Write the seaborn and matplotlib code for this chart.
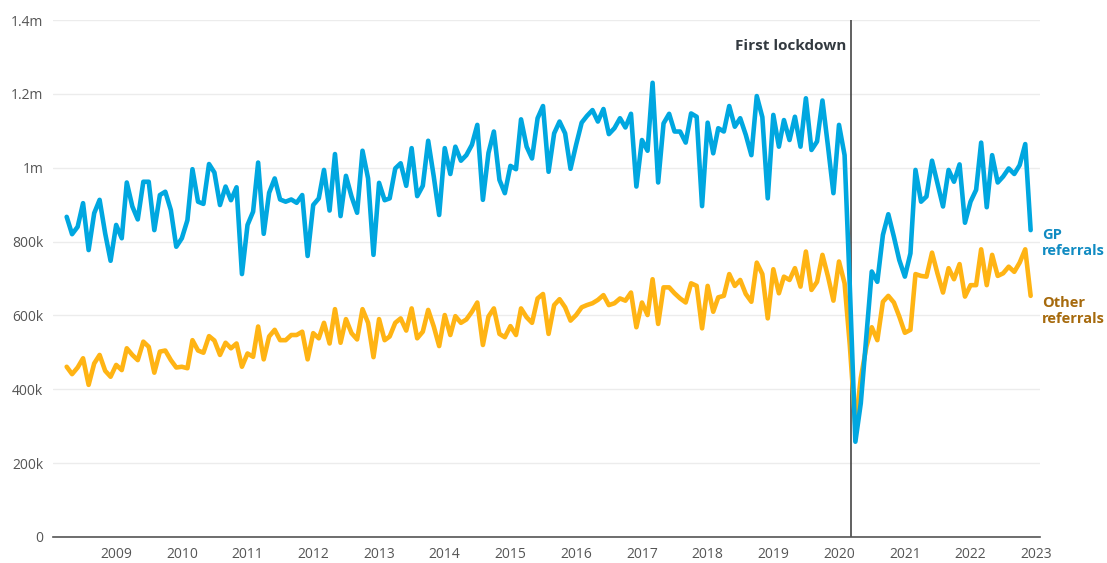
import pandas as pd
import numpy as np
import seaborn as sns
import matplotlib.pyplot as plt
import matplotlib.dates as mdates

# monthly referrals (thousands), Apr 2008 - Dec 2022
gp_referrals = [
    867, 820, 840, 904, 777, 877, 913, 822, 748, 845,
    809, 960, 895, 860, 962, 962, 831, 926, 935, 885,
    786, 809, 858, 996, 908, 902, 1010, 987, 899, 949,
    912, 947, 712, 845, 881, 1014, 821, 932, 971, 914,
    908, 914, 905, 926, 761, 899, 917, 994, 884, 1037,
    869, 978, 922, 878, 1046, 971, 764, 959, 912, 917,
    998, 1012, 951, 1053, 923, 951, 1073, 976, 872, 1053,
    983, 1057, 1019, 1034, 1062, 1116, 913, 1040, 1098, 967,
    931, 1005, 996, 1131, 1057, 1025, 1134, 1167, 989, 1093,
    1125, 1093, 997, 1062, 1122, 1140, 1156, 1125, 1159, 1091,
    1107, 1134, 1109, 1146, 949, 1075, 1046, 1230, 960, 1120,
    1146, 1098, 1098, 1068, 1147, 1138, 896, 1122, 1039, 1107,
    1098, 1167, 1111, 1134, 1089, 1034, 1194, 1137, 917, 1143,
    1057, 1129, 1075, 1138, 1057, 1188, 1048, 1071, 1182, 1057,
    931, 1116, 1034, 680, 258, 362, 543, 719, 691, 818,
    874, 813, 750, 705, 768, 994, 908, 922, 1019, 958,
    895, 994, 962, 1009, 851, 908, 940, 1068, 893, 1034,
    960, 976, 998, 983, 1007, 1064, 831,
]
other_referrals = [
    461, 441, 459, 484, 412, 470, 493, 450, 434, 466,
    452, 511, 493, 479, 529, 515, 445, 502, 505, 479,
    459, 461, 457, 533, 505, 499, 544, 532, 493, 526,
    511, 524, 461, 497, 488, 570, 481, 543, 561, 533,
    533, 547, 547, 556, 481, 552, 538, 580, 524, 617,
    526, 590, 552, 535, 617, 580, 487, 590, 533, 543,
    580, 592, 559, 619, 538, 556, 615, 570, 517, 601,
    547, 598, 580, 589, 610, 635, 520, 597, 619, 550,
    541, 571, 547, 619, 595, 580, 646, 658, 550, 628,
    644, 622, 586, 601, 622, 628, 633, 642, 655, 628,
    633, 646, 640, 662, 568, 635, 601, 698, 577, 676,
    676, 660, 646, 635, 687, 680, 565, 680, 610, 649,
    653, 712, 680, 696, 658, 637, 743, 712, 592, 725,
    660, 705, 696, 728, 678, 773, 669, 691, 764, 705,
    640, 746, 687, 520, 300, 430, 515, 568, 533, 637,
    653, 635, 597, 553, 561, 712, 707, 705, 770, 714,
    662, 728, 698, 739, 651, 682, 682, 779, 682, 764,
    707, 714, 732, 718, 743, 779, 653,
]
months = pd.date_range("2008-04-01", periods=len(gp_referrals), freq="MS")
year_ticks = list(range(2009, 2024))
y_ticks = [0, 200000, 400000, 600000, 800000, 1000000, 1200000, 1400000]
y_labels = ["0", "200k", "400k", "600k", "800k", "1m", "1.2m", "1.4m"]

df = pd.DataFrame({
    "month": list(months) * 2,
    "referrals": [v * 1000 for v in gp_referrals] + [v * 1000 for v in other_referrals],
    "type": ["GP referrals"] * len(months) + ["Other referrals"] * len(months),
})

sns.set_style("white")
plt.rcParams["font.family"] = ["Open Sans", "DejaVu Sans"]

fig = plt.figure(figsize=(11.07, 5.63), dpi=100)
ax = fig.add_axes([53 / 1107, 1 - 537 / 563, (1040 - 53) / 1107, (537 - 20) / 563])

palette = {"GP referrals": "#00a7e0", "Other referrals": "#ffb414"}
sns.lineplot(data=df, x="month", y="referrals", hue="type",
             hue_order=["Other referrals", "GP referrals"], palette=palette,
             linewidth=3.3, legend=False, ax=ax)
for ln in ax.get_lines():
    ln.set_solid_joinstyle("round")
    ln.set_solid_capstyle("round")

ax.set_ylim(0, 1400000)
ax.set_xlim(pd.Timestamp("2008-01-16"), pd.Timestamp("2023-01-22"))
ax.set_yticks(y_ticks)
ax.set_yticklabels(y_labels)
ax.set_xticks([pd.Timestamp(f"{y}-01-01") for y in year_ticks])
ax.xaxis.set_major_formatter(mdates.DateFormatter("%Y"))
ax.tick_params(axis="both", length=0, labelsize=10, labelcolor="#555555")
ax.tick_params(axis="y", pad=7)
ax.tick_params(axis="x", pad=7)
ax.grid(axis="y", color="#ececec", linewidth=1)
ax.set_axisbelow(True)
ax.set_xlabel("")
ax.set_ylabel("")
for s in ["top", "right", "left"]:
    ax.spines[s].set_visible(False)
ax.spines["bottom"].set_color("#555555")
ax.spines["bottom"].set_linewidth(1.2)

lockdown = pd.Timestamp("2020-03-08")
ax.axvline(lockdown, color="#454545", linewidth=1.2, zorder=1)
ax.text(lockdown - pd.Timedelta(days=25), 1330000, "First lockdown",
        ha="right", va="center", fontsize=11, fontweight="bold", color="#333a40")

end = months[-1]
ax.annotate("GP\nreferrals", xy=(end, 796000), xytext=(8, 0),
            textcoords="offset points", ha="left", va="center",
            fontsize=10.5, fontweight="bold", color="#108bc2",
            linespacing=1.2, annotation_clip=False)
ax.annotate("Other\nreferrals", xy=(end, 612000), xytext=(8, 0),
            textcoords="offset points", ha="left", va="center",
            fontsize=10.5, fontweight="bold", color="#a66a0d",
            linespacing=1.2, annotation_clip=False)

fig.savefig("out.png", dpi=100)
